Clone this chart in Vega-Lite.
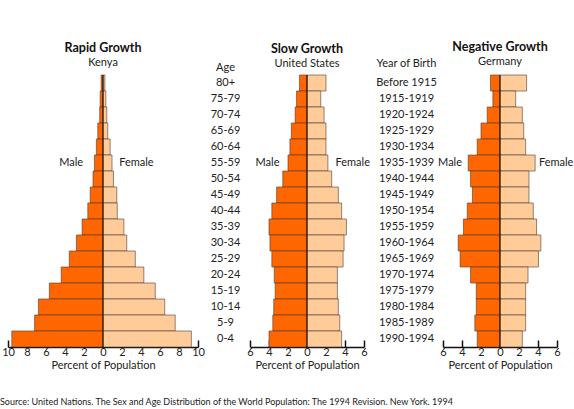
{
  "$schema": "https://vega.github.io/schema/vega-lite/v6.json",
  "background": "white",
  "padding": {"left": 0, "top": 40, "right": 0, "bottom": 0},
  "bounds": "flush",
  "spacing": 52,
  "title": {
    "text": "Source: United Nations. The Sex and Age Distribution of the World Population: The 1994 Revision. New York. 1994",
    "orient": "bottom",
    "anchor": "start",
    "frame": "group",
    "dx": -8,
    "offset": 28,
    "fontSize": 9,
    "fontWeight": "normal",
    "color": "#222"
  },
  "datasets": {
    "kenya": [
      {"age": "80+", "sex": "Male", "pct": -0.2}, {"age": "80+", "sex": "Female", "pct": 0.2},
      {"age": "75-79", "sex": "Male", "pct": -0.3}, {"age": "75-79", "sex": "Female", "pct": 0.3},
      {"age": "70-74", "sex": "Male", "pct": -0.35}, {"age": "70-74", "sex": "Female", "pct": 0.4},
      {"age": "65-69", "sex": "Male", "pct": -0.55}, {"age": "65-69", "sex": "Female", "pct": 0.5},
      {"age": "60-64", "sex": "Male", "pct": -0.7}, {"age": "60-64", "sex": "Female", "pct": 0.75},
      {"age": "55-59", "sex": "Male", "pct": -0.9}, {"age": "55-59", "sex": "Female", "pct": 0.95},
      {"age": "50-54", "sex": "Male", "pct": -1.05}, {"age": "50-54", "sex": "Female", "pct": 1.1},
      {"age": "45-49", "sex": "Male", "pct": -1.35}, {"age": "45-49", "sex": "Female", "pct": 1.45},
      {"age": "40-44", "sex": "Male", "pct": -1.6}, {"age": "40-44", "sex": "Female", "pct": 1.5},
      {"age": "35-39", "sex": "Male", "pct": -2.2}, {"age": "35-39", "sex": "Female", "pct": 2.2},
      {"age": "30-34", "sex": "Male", "pct": -2.8}, {"age": "30-34", "sex": "Female", "pct": 2.5},
      {"age": "25-29", "sex": "Male", "pct": -3.55}, {"age": "25-29", "sex": "Female", "pct": 3.4},
      {"age": "20-24", "sex": "Male", "pct": -4.4}, {"age": "20-24", "sex": "Female", "pct": 4.3},
      {"age": "15-19", "sex": "Male", "pct": -5.65}, {"age": "15-19", "sex": "Female", "pct": 5.5},
      {"age": "10-14", "sex": "Male", "pct": -6.8}, {"age": "10-14", "sex": "Female", "pct": 6.5},
      {"age": "5-9", "sex": "Male", "pct": -7.2}, {"age": "5-9", "sex": "Female", "pct": 7.6},
      {"age": "0-4", "sex": "Male", "pct": -9.6}, {"age": "0-4", "sex": "Female", "pct": 9.3}
    ],
    "usa": [
      {"age": "80+", "sex": "Male", "pct": -0.8}, {"age": "80+", "sex": "Female", "pct": 2.0},
      {"age": "75-79", "sex": "Male", "pct": -1.1}, {"age": "75-79", "sex": "Female", "pct": 1.45},
      {"age": "70-74", "sex": "Male", "pct": -1.25}, {"age": "70-74", "sex": "Female", "pct": 1.8},
      {"age": "65-69", "sex": "Male", "pct": -1.65}, {"age": "65-69", "sex": "Female", "pct": 2.0},
      {"age": "60-64", "sex": "Male", "pct": -1.8}, {"age": "60-64", "sex": "Female", "pct": 2.0},
      {"age": "55-59", "sex": "Male", "pct": -2.0}, {"age": "55-59", "sex": "Female", "pct": 2.2},
      {"age": "50-54", "sex": "Male", "pct": -2.55}, {"age": "50-54", "sex": "Female", "pct": 2.6},
      {"age": "45-49", "sex": "Male", "pct": -3.2}, {"age": "45-49", "sex": "Female", "pct": 3.3},
      {"age": "40-44", "sex": "Male", "pct": -3.7}, {"age": "40-44", "sex": "Female", "pct": 3.65},
      {"age": "35-39", "sex": "Male", "pct": -4.0}, {"age": "35-39", "sex": "Female", "pct": 4.15},
      {"age": "30-34", "sex": "Male", "pct": -3.9}, {"age": "30-34", "sex": "Female", "pct": 3.9},
      {"age": "25-29", "sex": "Male", "pct": -3.7}, {"age": "25-29", "sex": "Female", "pct": 3.8},
      {"age": "20-24", "sex": "Male", "pct": -3.45}, {"age": "20-24", "sex": "Female", "pct": 3.2},
      {"age": "15-19", "sex": "Male", "pct": -3.35}, {"age": "15-19", "sex": "Female", "pct": 3.2},
      {"age": "10-14", "sex": "Male", "pct": -3.5}, {"age": "10-14", "sex": "Female", "pct": 3.3},
      {"age": "5-9", "sex": "Male", "pct": -3.6}, {"age": "5-9", "sex": "Female", "pct": 3.45},
      {"age": "0-4", "sex": "Male", "pct": -4.0}, {"age": "0-4", "sex": "Female", "pct": 3.65}
    ],
    "germany": [
      {"birth": "Before 1915", "sex": "Male", "pct": -1.0}, {"birth": "Before 1915", "sex": "Female", "pct": 2.8},
      {"birth": "1915-1919", "sex": "Male", "pct": -0.75}, {"birth": "1915-1919", "sex": "Female", "pct": 1.65},
      {"birth": "1920-1924", "sex": "Male", "pct": -1.35}, {"birth": "1920-1924", "sex": "Female", "pct": 2.35},
      {"birth": "1925-1929", "sex": "Male", "pct": -2.0}, {"birth": "1925-1929", "sex": "Female", "pct": 2.5},
      {"birth": "1930-1934", "sex": "Male", "pct": -2.4}, {"birth": "1930-1934", "sex": "Female", "pct": 2.7},
      {"birth": "1935-1939", "sex": "Male", "pct": -3.35}, {"birth": "1935-1939", "sex": "Female", "pct": 3.7},
      {"birth": "1940-1944", "sex": "Male", "pct": -3.1}, {"birth": "1940-1944", "sex": "Female", "pct": 3.05},
      {"birth": "1945-1949", "sex": "Male", "pct": -2.9}, {"birth": "1945-1949", "sex": "Female", "pct": 3.05},
      {"birth": "1950-1954", "sex": "Male", "pct": -3.45}, {"birth": "1950-1954", "sex": "Female", "pct": 3.5},
      {"birth": "1955-1959", "sex": "Male", "pct": -3.85}, {"birth": "1955-1959", "sex": "Female", "pct": 3.85},
      {"birth": "1960-1964", "sex": "Male", "pct": -4.4}, {"birth": "1960-1964", "sex": "Female", "pct": 4.3},
      {"birth": "1965-1969", "sex": "Male", "pct": -4.2}, {"birth": "1965-1969", "sex": "Female", "pct": 4.05},
      {"birth": "1970-1974", "sex": "Male", "pct": -3.1}, {"birth": "1970-1974", "sex": "Female", "pct": 2.95},
      {"birth": "1975-1979", "sex": "Male", "pct": -2.5}, {"birth": "1975-1979", "sex": "Female", "pct": 2.7},
      {"birth": "1980-1984", "sex": "Male", "pct": -2.5}, {"birth": "1980-1984", "sex": "Female", "pct": 2.7},
      {"birth": "1985-1989", "sex": "Male", "pct": -2.65}, {"birth": "1985-1989", "sex": "Female", "pct": 2.7},
      {"birth": "1990-1994", "sex": "Male", "pct": -2.4}, {"birth": "1990-1994", "sex": "Female", "pct": 2.35}
    ]
  },
  "hconcat": [
    {
      "width": 190,
      "height": 272,
      "title": {"text": "Rapid Growth", "subtitle": "Kenya"},
      "data": {"name": "kenya"},
      "encoding": {
        "x": {
          "type": "quantitative",
          "scale": {"domain": [-10, 10], "nice": false},
          "axis": {"title": "Percent of Population", "values": [-10, -8, -6, -4, -2, 0, 2, 4, 6, 8, 10]}
        }
      },
      "layer": [
        {
          "mark": {"type": "bar", "stroke": "#4d3b2f", "strokeWidth": 0.6},
          "encoding": {
            "y": {
              "field": "age", "type": "nominal",
              "sort": ["80+", "75-79", "70-74", "65-69", "60-64", "55-59", "50-54", "45-49", "40-44", "35-39", "30-34", "25-29", "20-24", "15-19", "10-14", "5-9", "0-4"],
              "scale": {"paddingInner": 0, "paddingOuter": 0},
              "axis": null
            },
            "x": {"field": "pct", "type": "quantitative", "stack": null},
            "color": {"field": "sex", "type": "nominal", "scale": {"domain": ["Male", "Female"], "range": ["#ff6600", "#ffcc99"]}, "legend": null}
          }
        },
        {"data": {"values": [{}]}, "mark": {"type": "rule", "color": "#2a1a10", "strokeWidth": 1.2}, "encoding": {"x": {"datum": 0}}},
        {"data": {"values": [{}]}, "mark": {"type": "text", "text": "Male", "align": "right"}, "encoding": {"x": {"datum": -2.1}, "y": {"datum": "55-59"}}},
        {"data": {"values": [{}]}, "mark": {"type": "text", "text": "Female", "align": "left"}, "encoding": {"x": {"datum": 1.7}, "y": {"datum": "55-59"}}}
      ]
    },
    {
      "bounds": "flush",
      "spacing": 79,
      "hconcat": [
        {
          "width": 114,
          "height": 272,
          "title": {"text": "Slow Growth", "subtitle": "United States", "offset": -8},
          "data": {"name": "usa"},
          "encoding": {
            "x": {
              "type": "quantitative",
              "scale": {"domain": [-6, 6], "nice": false},
              "axis": {"title": "Percent of Population", "values": [-6, -4, -2, 0, 2, 4, 6]}
            }
          },
          "layer": [
            {
              "mark": {"type": "bar", "stroke": "#4d3b2f", "strokeWidth": 0.6},
              "encoding": {
                "y": {
                  "field": "age", "type": "nominal",
                  "sort": ["80+", "75-79", "70-74", "65-69", "60-64", "55-59", "50-54", "45-49", "40-44", "35-39", "30-34", "25-29", "20-24", "15-19", "10-14", "5-9", "0-4"],
                  "scale": {"paddingInner": 0, "paddingOuter": 0},
                  "axis": {"title": "Age", "titleX": -25, "titleY": -8, "labelPadding": 25}
                },
                "x": {"field": "pct", "type": "quantitative", "stack": null},
                "color": {"field": "sex", "type": "nominal", "scale": {"domain": ["Male", "Female"], "range": ["#ff6600", "#ffcc99"]}, "legend": null}
              }
            },
            {"data": {"values": [{}]}, "mark": {"type": "rule", "color": "#2a1a10", "strokeWidth": 1.2}, "encoding": {"x": {"datum": 0}}},
            {"data": {"values": [{}]}, "mark": {"type": "text", "text": "Male", "align": "right"}, "encoding": {"x": {"datum": -2.9}, "y": {"datum": "55-59"}}},
            {"data": {"values": [{}]}, "mark": {"type": "text", "text": "Female", "align": "left"}, "encoding": {"x": {"datum": 3.0}, "y": {"datum": "55-59"}}}
          ]
        },
        {
          "width": 114,
          "height": 272,
          "title": {"text": "Negative Growth", "subtitle": "Germany", "offset": -10},
          "data": {"name": "germany"},
          "encoding": {
            "x": {
              "type": "quantitative",
              "scale": {"domain": [-6, 6], "nice": false},
              "axis": {"title": "Percent of Population", "values": [-6, -4, -2, 0, 2, 4, 6]}
            }
          },
          "layer": [
            {
              "mark": {"type": "bar", "stroke": "#4d3b2f", "strokeWidth": 0.6},
              "encoding": {
                "y": {
                  "field": "birth", "type": "nominal",
                  "sort": ["Before 1915", "1915-1919", "1920-1924", "1925-1929", "1930-1934", "1935-1939", "1940-1944", "1945-1949", "1950-1954", "1955-1959", "1960-1964", "1965-1969", "1970-1974", "1975-1979", "1980-1984", "1985-1989", "1990-1994"],
                  "scale": {"paddingInner": 0, "paddingOuter": 0},
                  "axis": {"title": "Year of Birth", "titleX": -37, "titleY": -12, "labelPadding": 37}
                },
                "x": {"field": "pct", "type": "quantitative", "stack": null},
                "color": {"field": "sex", "type": "nominal", "scale": {"domain": ["Male", "Female"], "range": ["#ff6600", "#ffcc99"]}, "legend": null}
              }
            },
            {"data": {"values": [{}]}, "mark": {"type": "rule", "color": "#2a1a10", "strokeWidth": 1.2}, "encoding": {"x": {"datum": 0}}},
            {"data": {"values": [{}]}, "mark": {"type": "text", "text": "Male", "align": "right"}, "encoding": {"x": {"datum": -4.0}, "y": {"datum": "1935-1939"}}},
            {"data": {"values": [{}]}, "mark": {"type": "text", "text": "Female", "align": "left"}, "encoding": {"x": {"datum": 4.1}, "y": {"datum": "1935-1939"}}}
          ]
        }
      ]
    }
  ],
  "resolve": {"scale": {"x": "independent", "y": "independent"}},
  "config": {
    "font": "Lato",
    "view": {"stroke": null},
    "text": {"fontSize": 11, "color": "#222", "baseline": "middle"},
    "title": {"fontSize": 12.5, "fontWeight": "bold", "color": "#111", "subtitleFontSize": 11, "subtitleColor": "#222", "subtitlePadding": 3, "offset": 6, "anchor": "middle"},
    "axisX": {
      "grid": false,
      "labelExpr": "abs(datum.value)",
      "labelFlush": false,
      "labelOverlap": false,
      "tickSize": -7,
      "tickColor": "#111",
      "tickWidth": 1.5,
      "domainColor": "#111",
      "domainWidth": 1.5,
      "labelPadding": 6,
      "labelFontSize": 11,
      "labelColor": "#222",
      "titleFontSize": 11,
      "titleFontWeight": "normal",
      "titleColor": "#222",
      "titlePadding": 2
    },
    "axisY": {
      "titleAngle": 0,
      "titleAlign": "center",
      "titleBaseline": "middle",
      "titleFontSize": 11,
      "titleFontWeight": "normal",
      "titleColor": "#222",
      "labelAlign": "center",
      "labelBaseline": "middle",
      "labelFontSize": 11,
      "labelColor": "#222",
      "ticks": false,
      "domain": false,
      "grid": false
    }
  }
}
